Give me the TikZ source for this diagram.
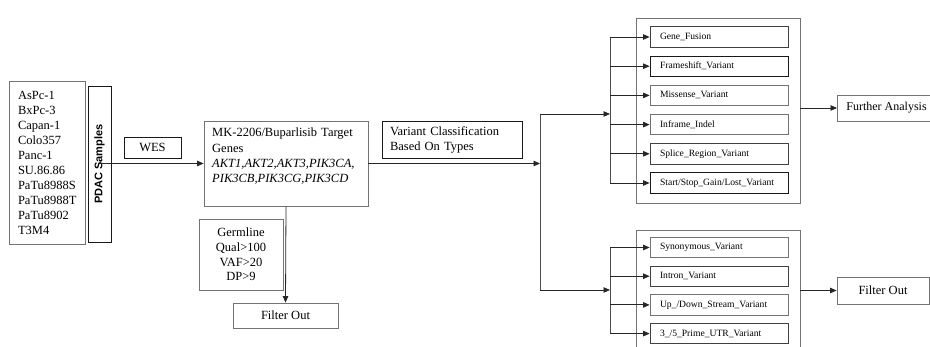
\documentclass[tikz,border=0pt]{standalone}
\usepackage{fontspec}
\setmainfont{Liberation Serif}
\newfontfamily\pdacfont{Liberation Sans}
\usetikzlibrary{arrows.meta}
\begin{document}
\begin{tikzpicture}[x=1pt,y=-1pt,
  box/.style={draw=black!55, line width=0.8pt, inner sep=0pt, font=\fontsize{12.5}{15}\selectfont},
  dbox/.style={box, draw=black!90},
  vbox/.style={box, minimum height=20.5pt, minimum width=138pt, text width=118pt, align=left, font=\fontsize{9.6}{11}\selectfont},
  dvbox/.style={vbox, draw=black!90},
  arr/.style={draw=black!85, line width=0.8pt, -{Triangle[length=6.5pt,width=5.5pt]}},
  ln/.style={draw=black!70, line width=0.8pt}]
\useasboundingbox (0,0) rectangle (930,347);
\clip (0,0) rectangle (930,347);
% left column
\node[box, minimum width=76pt, minimum height=163pt, text width=58pt, align=left] (list) at (47,162.5)
  {AsPc-1\\BxPc-3\\Capan-1\\Colo357\\Panc-1\\SU.86.86\\PaTu8988S\\PaTu8988T\\PaTu8902\\T3M4};
\node[dbox, rotate=90, minimum width=156pt, minimum height=23pt, font=\pdacfont\bfseries\fontsize{11}{13}\selectfont] (pdac) at (99.5,164) {PDAC Samples};
\node[dbox, minimum width=57pt, minimum height=21pt] (wes) at (152.5,147.5) {WES};
% MK box
\node[box, minimum width=164pt, minimum height=85pt] (mk) at (286,163.5) {};
\node[inner sep=0pt, anchor=north west, text width=155pt, align=left, font=\fontsize{12.5}{15.3}\selectfont] (mktext) at (212,128)
  {MK-2206/Buparlisib Target\\Genes\\\textit{AKT1,AKT2,AKT3,PIK3CA,}\\\textit{PIK3CB,PIK3CG,PIK3CD}};
\node[box, minimum width=84pt, minimum height=71pt, align=center, font=\fontsize{12.5}{14.7}\selectfont] (germ) at (241,254.5)
  {Germline\\Qual>100\\VAF>20\\DP>9};
\node[box, minimum width=105pt, minimum height=25pt] (filt1) at (285.5,315.5) {Filter Out};
\node[dbox, minimum width=140pt, minimum height=37pt, text width=124pt, align=left] (vclass) at (452,139.5)
  {Variant Classification\\Based On Types};
% outer boxes
\node[box, minimum width=164pt, minimum height=185pt] (outerA) at (718,110.5) {};
\node[box, minimum width=164pt, minimum height=140pt] (outerB) at (718,300) {};
% inner boxes upper
\node[vbox, draw=black!75] (gf) at (719,37) {Gene\_Fusion};
\node[dvbox] (fs) at (719,66.2) {Frameshift\_Variant};
\node[vbox] (ms) at (719,95.4) {Missense\_Variant};
\node[vbox] (ii) at (719,124.6) {Inframe\_Indel};
\node[vbox, draw=black!75] (sr) at (719,153.8) {Splice\_Region\_Variant};
\node[dvbox] (ss) at (719,183) {Start/Stop\_Gain/Lost\_Variant};
% inner boxes lower
\node[vbox] (sy) at (719,247.5) {Synonymous\_Variant};
\node[vbox, draw=black!75] (iv) at (719,276.2) {Intron\_Variant};
\node[vbox] (ud) at (719,304.9) {Up\_/Down\_Stream\_Variant};
\node[vbox, draw=black!75] (pu) at (719,333.6) {3\_/5\_Prime\_UTR\_Variant};
% right boxes
\node[box, anchor=west, inner xsep=9pt, minimum height=26pt, font=\fontsize{12}{14}\selectfont] (further) at (837,108) {Further Analysis};
\node[box, minimum width=92pt, minimum height=27pt] (filt2) at (883,290.5) {Filter Out};
% junction coordinates
\coordinate (j) at (540,163.5);
\coordinate (jt) at (540,114);
\coordinate (jb) at (540,290);
\coordinate (bt) at (610,114);
\coordinate (bb) at (610,290);
% connectors
\draw[arr] (pdac.east |- mk.west) -- (mk.west);
\draw[arr] (mk.south) -- (filt1.north);
\draw[arr] (mk.east) -- (j);
\draw[ln] (jt) -- (jb);
\draw[arr] (jt) -- (bt);
\draw[arr] (jb) -- (bb);
\draw[ln] (gf.west -| bt) -- (ss.west -| bt);
\draw[ln] (sy.west -| bb) -- (pu.west -| bb);
\foreach \n in {gf,fs,ms,ii,sr,ss}{\draw[arr] (\n.west -| bt) -- (\n.west);}
\foreach \n in {sy,iv,ud,pu}{\draw[arr] (\n.west -| bb) -- (\n.west);}
\draw[arr] (outerA.east |- further.west) -- (further.west);
\draw[arr] (outerB.east |- filt2.west) -- (filt2.west);
\end{tikzpicture}
\end{document}
